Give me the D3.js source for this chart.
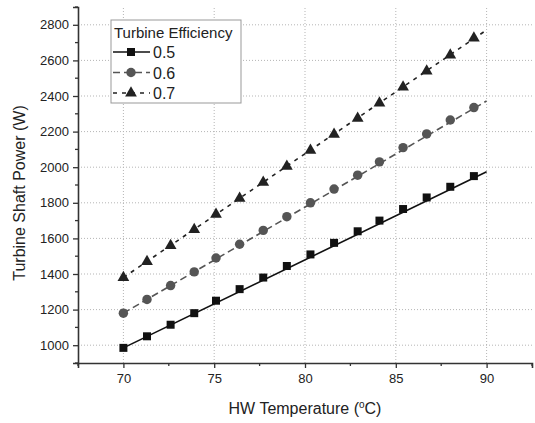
<!DOCTYPE html>
<html>
<head>
<meta charset="utf-8">
<script src="https://cdn.jsdelivr.net/npm/d3@7"></script>
<style>
  body { margin: 0; background: #fff; }
  text { font-family: "Liberation Sans", Arial, sans-serif; fill: #222; }
</style>
</head>
<body>
<div id="myChart"></div>
<script>
// Chart size
const w = 535;
const h = 423;

// Data
const temps = [70, 71.3, 72.6, 73.9, 75.1, 76.4, 77.7, 79.0, 80.3, 81.6, 82.9, 84.1, 85.4, 86.7, 88.0, 89.3];
const eff05 = [985, 1050, 1115, 1180, 1250, 1315, 1380, 1445, 1510, 1575, 1640, 1700, 1765, 1830, 1890, 1950];
const eff06 = [1180, 1257, 1335, 1412, 1490, 1567, 1645, 1722, 1800, 1877, 1955, 2030, 2110, 2187, 2265, 2335];
const eff07 = [1380, 1470, 1560, 1650, 1735, 1825, 1915, 2005, 2095, 2185, 2275, 2360, 2450, 2540, 2630, 2725];
// fitted line end points (at 70 and 90)
const fitX = [70, 90];
const fit05 = [985, 1974];
const fit06 = [1180, 2372];
const fit07 = [1380, 2771];

const seriesNames = ["0.5", "0.6", "0.7"];
const xTicks = [70, 75, 80, 85, 90];
const yTicks = [1000, 1200, 1400, 1600, 1800, 2000, 2200, 2400, 2600, 2800];

const series = [
  {name: seriesNames[0], y: eff05, fit: fit05, color: "#111", dash: null, symbol: d3.symbolSquare, size: 64},
  {name: seriesNames[1], y: eff06, fit: fit06, color: "#555", dash: "7,4", symbol: d3.symbolCircle, size: 70},
  {name: seriesNames[2], y: eff07, fit: fit07, color: "#222", dash: "4,5", symbol: d3.symbolTriangle, size: 60}
];

const svg = d3.select("#myChart")
  .append("svg")
    .attr("width", w)
    .attr("height", h);

const xScale = d3.scaleLinear().domain([67.5, 92.5]).range([78, 532]);
const yScale = d3.scaleLinear().domain([900, 2900]).range([363, 7]);

// grid
const grid = svg.append("g");
grid.selectAll(".gx").data(xTicks).enter().append("line")
  .attr("x1", d => xScale(d)).attr("x2", d => xScale(d))
  .attr("y1", yScale.range()[0]).attr("y2", yScale.range()[1])
  .attr("stroke", "#b5b5b5").attr("stroke-dasharray", "1,2");
grid.selectAll(".gy").data(yTicks).enter().append("line")
  .attr("x1", xScale.range()[0]).attr("x2", xScale.range()[1])
  .attr("y1", d => yScale(d)).attr("y2", d => yScale(d))
  .attr("stroke", "#b5b5b5").attr("stroke-dasharray", "1,2");

// axes
const xAxis = svg.append("g")
  .attr("transform", `translate(0,${yScale.range()[0]})`)
  .call(d3.axisBottom(xScale).tickValues(xTicks).tickSize(5).tickPadding(6));
xAxis.append("g").selectAll("line")
  .data(d3.range(67.5, 93, 2.5).filter(v => v % 5 !== 0))
  .enter().append("line")
  .attr("x1", d => xScale(d)).attr("x2", d => xScale(d))
  .attr("y1", 0).attr("y2", 3).attr("stroke", "#333").attr("stroke-width", 1.3);

const yAxis = svg.append("g")
  .attr("transform", `translate(${xScale.range()[0]},0)`)
  .call(d3.axisLeft(yScale).tickValues(yTicks).tickFormat(d3.format("d")).tickSize(5).tickPadding(4));
yAxis.append("g").selectAll("line")
  .data(d3.range(900, 2901, 100).filter(v => v % 200 !== 0))
  .enter().append("line")
  .attr("x1", 0).attr("x2", -3)
  .attr("y1", d => yScale(d)).attr("y2", d => yScale(d))
  .attr("stroke", "#333").attr("stroke-width", 1.3);

svg.selectAll(".domain").attr("stroke", "#333").attr("stroke-width", 1.6);
svg.selectAll(".tick line").attr("stroke", "#333").attr("stroke-width", 1.3);
svg.selectAll(".tick text")
  .style("font-family", "'Liberation Sans', Arial, sans-serif")
  .style("font-size", "13px").attr("fill", "#333");

// axis titles
svg.append("text")
  .attr("text-anchor", "middle")
  .attr("transform", `translate(25,${(yScale.range()[0] + yScale.range()[1]) / 2 + 8}) rotate(-90)`)
  .style("font-size", "16px")
  .text("Turbine Shaft Power (W)");

const xt = svg.append("text")
  .attr("text-anchor", "middle")
  .attr("x", 305).attr("y", 414)
  .style("font-size", "16px");
xt.append("tspan").text("HW Temperature (");
xt.append("tspan").attr("dy", -6).style("font-size", "10px").text("o");
xt.append("tspan").attr("dy", 6).text("C)");

// lines and markers
const line = d3.line().x(d => xScale(d[0])).y(d => yScale(d[1]));

series.forEach(s => {
  svg.append("path")
    .datum(fitX.map((x, i) => [x, s.fit[i]]))
    .attr("d", line)
    .attr("fill", "none")
    .attr("stroke", s.color)
    .attr("stroke-width", 1.6)
    .attr("stroke-dasharray", s.dash);
  svg.append("g").selectAll("path")
    .data(temps.map((x, i) => [x, s.y[i]]))
    .enter().append("path")
      .attr("d", d3.symbol().type(s.symbol).size(s.size))
      .attr("transform", d => `translate(${xScale(d[0])},${yScale(d[1])})`)
      .attr("fill", s.color);
});

// legend
const lg = svg.append("g").attr("transform", "translate(111,20)");
lg.append("rect")
  .attr("width", 130).attr("height", 83)
  .attr("fill", "#fff").attr("stroke", "#999").attr("stroke-width", 1);
lg.append("text").attr("x", 3).attr("y", 18).style("font-size", "15px").text("Turbine Efficiency");
series.forEach((s, i) => {
  const yy = 32 + i * 20.5;
  lg.append("line")
    .attr("x1", 2).attr("x2", 39).attr("y1", yy).attr("y2", yy)
    .attr("stroke", s.color).attr("stroke-width", 1.6)
    .attr("stroke-dasharray", s.dash);
  lg.append("path")
    .attr("d", d3.symbol().type(s.symbol).size(s.size))
    .attr("transform", `translate(20,${yy})`)
    .attr("fill", s.color);
  lg.append("text").attr("x", 42).attr("y", yy + 6).style("font-size", "16px").text(s.name);
});
</script>
</body>
</html>
